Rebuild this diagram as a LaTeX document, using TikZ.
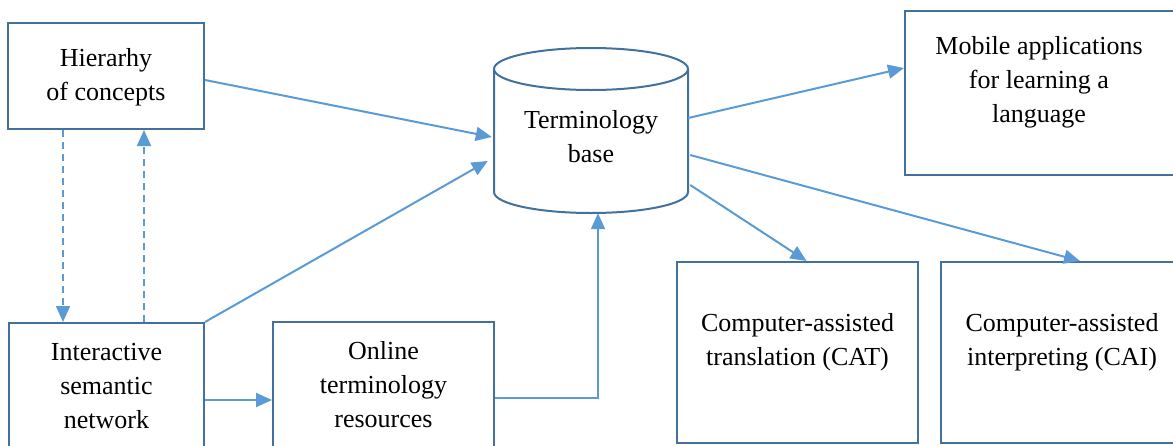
\documentclass[tikz,border=0pt]{standalone}
\usepackage{fontspec}
\setmainfont{Liberation Serif}
\usetikzlibrary{arrows.meta,positioning}
\definecolor{boxline}{HTML}{41719C}
\definecolor{arrline}{HTML}{5B9BD5}
\tikzset{
  box/.style={draw=boxline,line width=2pt,rectangle,inner sep=0pt},
  txt/.style={align=center,font=\fontsize{26}{34}\selectfont,inner sep=0pt},
  link/.style={draw=arrline,line width=2pt,-{Triangle[length=16pt,width=14pt]}},
  dlink/.style={link,dash pattern=on 7pt off 5pt}
}
\begin{document}
\begin{tikzpicture}[x=1pt,y=-1pt]
        \useasboundingbox (0,0) rectangle (1173,445);
        %% Boxes
        \node[box,minimum width=196pt,minimum height=106pt] (hier) at (106,76) {};
        \node[txt] (hiert) at (106,77) {Hierarhy\\of concepts};
        \node[box,minimum width=195pt,minimum height=124pt] (net) at (106.5,385) {};
        \node[txt] (nett) at (106.5,386) {Interactive\\semantic\\network};
        \node[box,minimum width=221pt,minimum height=126pt] (onl) at (383.5,385) {};
        \node[txt] (onlt) at (383.5,385) {Online\\terminology\\resources};
        \node[box,minimum width=241pt,minimum height=181pt] (cat) at (797.5,352.5) {};
        \node[txt] (catt) at (797.5,342) {Computer-assisted\\translation (CAT)};
        \node[box,minimum width=250pt,minimum height=181pt] (cai) at (1066,352.5) {};
        \node[txt] (cait) at (1062,342) {Computer-assisted\\interpreting (CAI)};
        \node[box,minimum width=290pt,minimum height=164pt] (mob) at (1050,93) {};
        \node[txt] (mobt) at (1039,82) {Mobile applications\\for learning a\\language};
        %% Cylinder
        \node[minimum width=194pt,minimum height=164pt,inner sep=0pt] (tb) at (591,130) {};
        \draw[boxline,line width=2pt] (494,69) -- (494,192)
            arc[start angle=180,end angle=360,x radius=97pt,y radius=21pt] -- (688,69);
        \draw[boxline,line width=2pt,fill=white] (591,69) ellipse[x radius=97pt,y radius=21pt];
        \node[txt] (tbt) at (591,137) {Terminology\\base};
        %% Connectors
        \draw[link] ([yshift=-4pt]hier.east) -- ([xshift=-2pt,yshift=-7pt]tb.west);
        \draw[link] (net.north east) -- ([xshift=-6pt,yshift=-31pt]tb.west);
        \draw[dlink] ([xshift=-43pt]hier.south) -- ([xshift=-43.5pt]net.north);
        \draw[dlink] ([xshift=37.5pt]net.north) -- ([xshift=38pt]hier.south);
        \draw[link] ([yshift=-15pt]net.east) -- ([yshift=-15pt]onl.west);
        \draw[link] ([yshift=-13pt]onl.east) -| ([xshift=7pt,yshift=-1pt]tb.south);
        \draw[link] ([yshift=12pt]tb.east) -- ([yshift=25pt]mob.west);
        \draw[link] ([xshift=2pt,yshift=-25pt]tb.east) -- ([xshift=14pt]cai.north);
        \draw[link] ([xshift=2pt,yshift=-55pt]tb.east) -- ([xshift=9pt]cat.north);
\end{tikzpicture}
\end{document}
